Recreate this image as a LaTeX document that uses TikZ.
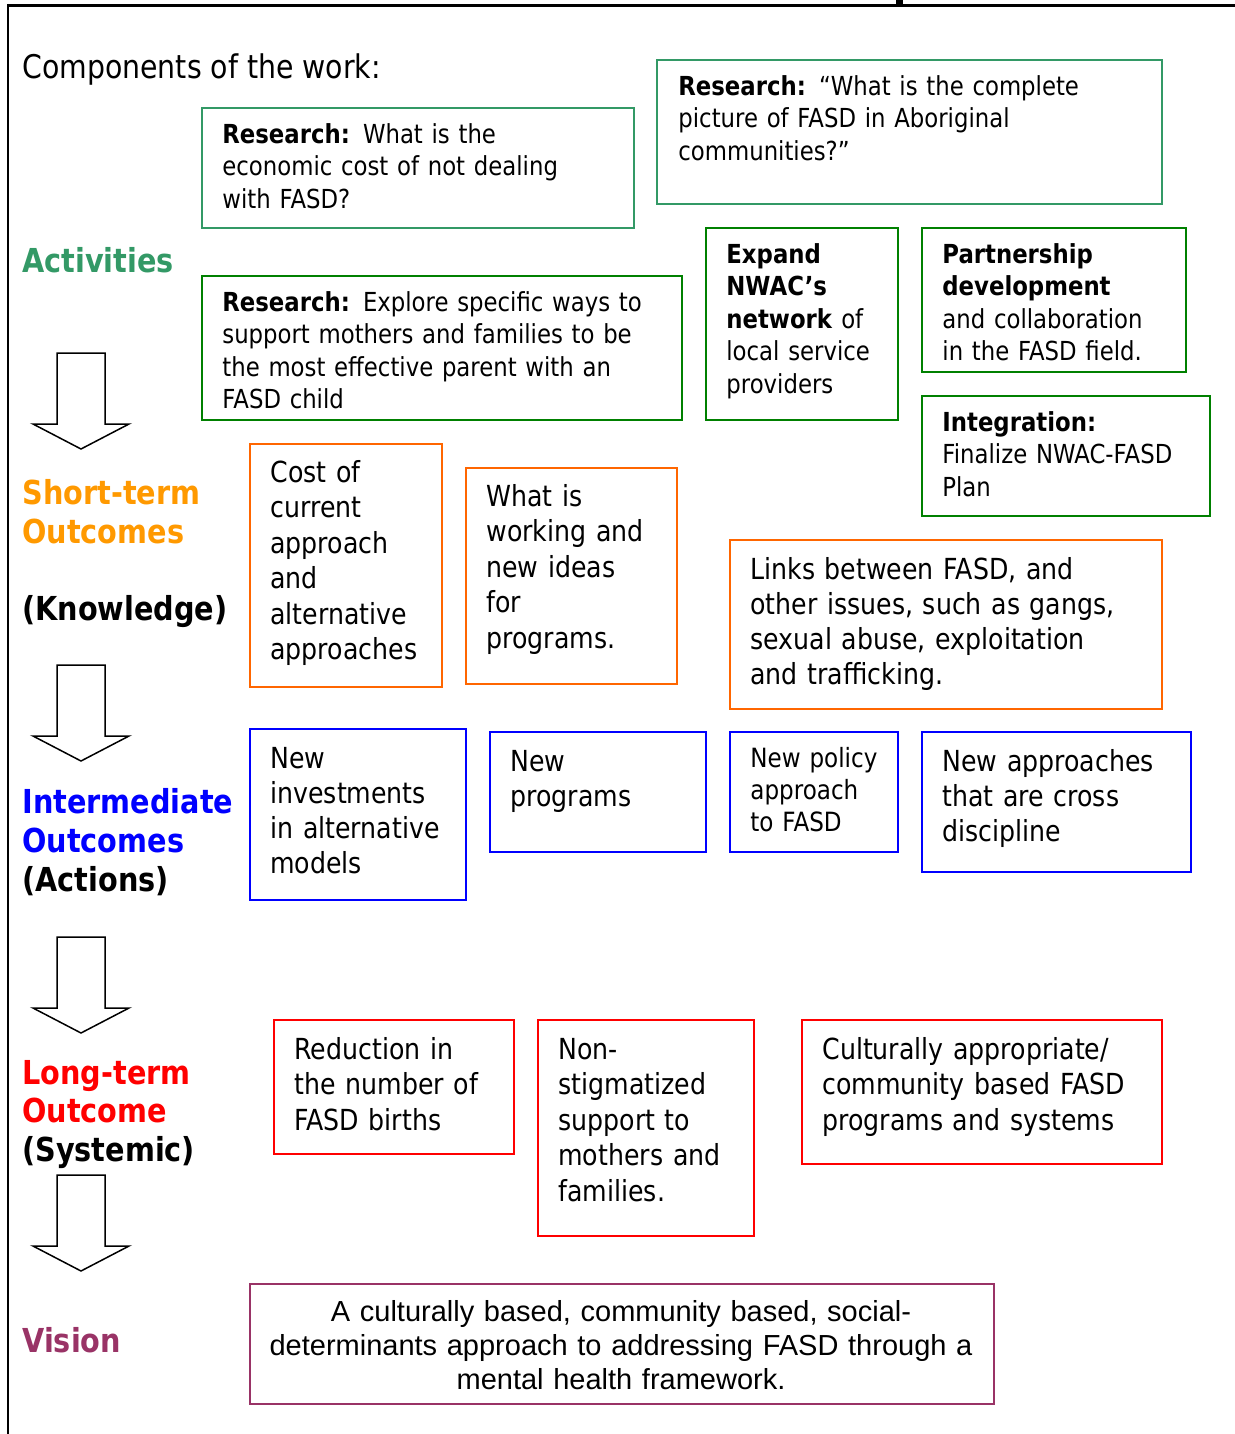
\documentclass[tikz,border=0pt]{standalone}
\usepackage{fontspec}
\setmainfont{DejaVu Sans}[FakeStretch=0.87]
\newfontfamily\visionfont{Liberation Sans}
\definecolor{seagreen}{HTML}{339966}
\definecolor{dkgreen}{HTML}{008000}
\definecolor{orangebox}{HTML}{FF6600}
\definecolor{orangelab}{HTML}{FF9900}
\definecolor{bluebox}{HTML}{0000FF}
\definecolor{redbox}{HTML}{FF0000}
\definecolor{plum}{HTML}{993366}
\tikzset{
  box/.style={draw=#1, line width=1pt, inner sep=0pt, anchor=north west},
  txt/.style={inner sep=0pt, anchor=north west, text width=290pt, align=left},
  fA/.style={font=\fontsize{13.1pt}{16.25pt}\selectfont},
  fB/.style={font=\fontsize{14.5pt}{17.75pt}\selectfont},
  fC/.style={font=\fontsize{14.5pt}{17.5pt}\selectfont},
  fP/.style={font=\fontsize{13.25pt}{16pt}\selectfont},
  lab/.style={inner sep=0pt, anchor=base west, font=\fontsize{16.5pt}{19.5pt}\selectfont\bfseries},
  blockarrow/.style={draw=black, line width=0.75pt, fill=white, line join=miter},
}
\begin{document}
\begin{tikzpicture}[x=0.5pt,y=-0.5pt]
\useasboundingbox (0,0) rectangle (1235,1434);
% frame
\draw[line width=1.4pt] (7.5,5.5) -- (1235,5.5);
\draw[line width=1pt] (7.5,4) -- (7.5,1434);
\fill (896,0) rectangle (903,5);

% left labels
\node[inner sep=0pt, anchor=base west, font=\fontsize{16.3pt}{19pt}\selectfont] (comp) at (22,79) {Components of the work:};
\node[lab, text=seagreen] (lact) at (22,272) {Activities};
\node[lab, text=orangelab] (lst1) at (22,504) {Short-term};
\node[lab, text=orangelab] (lst2) at (22,543) {Outcomes};
\node[lab] (lst3) at (22,620) {(Knowledge)};
\node[lab, text=bluebox] (lim1) at (22,813) {Intermediate};
\node[lab, text=bluebox] (lim2) at (22,852) {Outcomes};
\node[lab] (lim3) at (22,891) {(Actions)};
\node[lab, text=redbox] (llt1) at (22,1084) {Long-term};
\node[lab, text=redbox] (llt2) at (22,1122) {Outcome};
\node[lab] (llt3) at (22,1161) {(Systemic)};
\node[lab, text=plum] (lvis) at (22,1352) {Vision};

% block arrows
\foreach \T in {353,665,937,1175}{
  \draw[blockarrow] (57,\T) -- (105,\T) -- (105,\T+71) -- (129,\T+71) -- (81,\T+96) -- (33,\T+71) -- (57,\T+71) -- cycle;
}

% activities
\node[box=seagreen, minimum width=216pt, minimum height=60pt] (b1) at (201,107) {};
\node[txt, fA] (t1) at (222,120.25) {\strut\textbf{Research:} What is the\\economic cost of not dealing\\with FASD?};
\node[box=seagreen, minimum width=252.5pt, minimum height=72pt] (b2) at (656,59) {};
\node[txt, fA] (t2) at (678,72.25) {\strut\textbf{Research:} “What is the complete\\picture of FASD in Aboriginal\\communities?”};
\node[box=dkgreen, minimum width=240pt, minimum height=72pt] (b3) at (201,275) {};
\node[txt, fA] (t3) at (222,288.25) {\strut\textbf{Research:} Explore specific ways to\\support mothers and families to be\\the most effective parent with an\\FASD child};
\node[box=dkgreen, minimum width=96pt, minimum height=96pt] (b4) at (705,227) {};
\node[txt, fA] (t4) at (726,240.25) {\strut\textbf{Expand}\\\textbf{NWAC’s}\\\textbf{network} of\\local service\\providers};
\node[box=dkgreen, minimum width=132pt, minimum height=72pt] (b5) at (921,227) {};
\node[txt, fA] (t5) at (942,240.25) {\strut\textbf{Partnership}\\\textbf{development}\\and collaboration\\in the FASD field.};
\node[box=dkgreen, minimum width=144pt, minimum height=60pt] (b6) at (921,395) {};
\node[txt, fA] (t6) at (942,408.25) {\strut\textbf{Integration:}\\Finalize NWAC-FASD\\Plan};

% short-term outcomes
\node[box=orangebox, minimum width=96pt, minimum height=121.5pt] (b7) at (249,443) {};
\node[txt, fB] (t7) at (270,457.15) {\strut Cost of\\current\\approach\\and\\alternative\\approaches};
\node[box=orangebox, minimum width=105.5pt, minimum height=108pt] (b8) at (465,467) {};
\node[txt, fB] (t8) at (486,481.15) {\strut What is\\working and\\new ideas\\for\\programs.};
\node[box=orangebox, minimum width=216pt, minimum height=84.5pt] (b9) at (729,539) {};
\node[txt, fC] (t9) at (750,554.5) {\strut Links between FASD, and\\other issues, such as gangs,\\sexual abuse, exploitation\\and trafficking.};

% intermediate outcomes
\node[box=bluebox, minimum width=108pt, minimum height=85.5pt] (b10) at (249,728) {};
\node[txt, fC] (t10) at (270,743.5) {\strut New\\investments\\in alternative\\models};
\node[box=bluebox, minimum width=108pt, minimum height=60pt] (b11) at (489,731) {};
\node[txt, fC] (t11) at (510,746.5) {\strut New\\programs};
\node[box=bluebox, minimum width=84pt, minimum height=60pt] (b12) at (729,731) {};
\node[txt, fP] (t12) at (750,744.6) {\strut New policy\\approach\\to FASD};
\node[box=bluebox, minimum width=134.5pt, minimum height=70pt] (b13) at (921,731) {};
\node[txt, fC] (t13) at (942,746.5) {\strut New approaches\\that are cross\\discipline};

% long-term outcomes
\node[box=redbox, minimum width=120pt, minimum height=67pt] (b14) at (273,1019) {};
\node[txt, fB] (t14) at (294,1034.15) {\strut Reduction in\\the number of\\FASD births};
\node[box=redbox, minimum width=108pt, minimum height=108pt] (b15) at (537,1019) {};
\node[txt, fB] (t15) at (558,1034.15) {\strut Non-\\stigmatized\\support to\\mothers and\\families.};
\node[box=redbox, minimum width=180pt, minimum height=72pt] (b16) at (801,1019) {};
\node[txt, fB] (t16) at (822,1034.15) {\strut Culturally appropriate/\\community based FASD\\programs and systems};

% vision
\node[box=plum, minimum width=372pt, minimum height=60pt] (b17) at (249,1283) {};
\node[inner sep=0pt, anchor=north, text width=372pt, align=center, font=\visionfont\fontsize{14.5pt}{17pt}\selectfont] (t17) at (621,1297.2) {\strut A culturally based, community based, social-\\determinants approach to addressing FASD through a\\mental health framework.};
\end{tikzpicture}
\end{document}
